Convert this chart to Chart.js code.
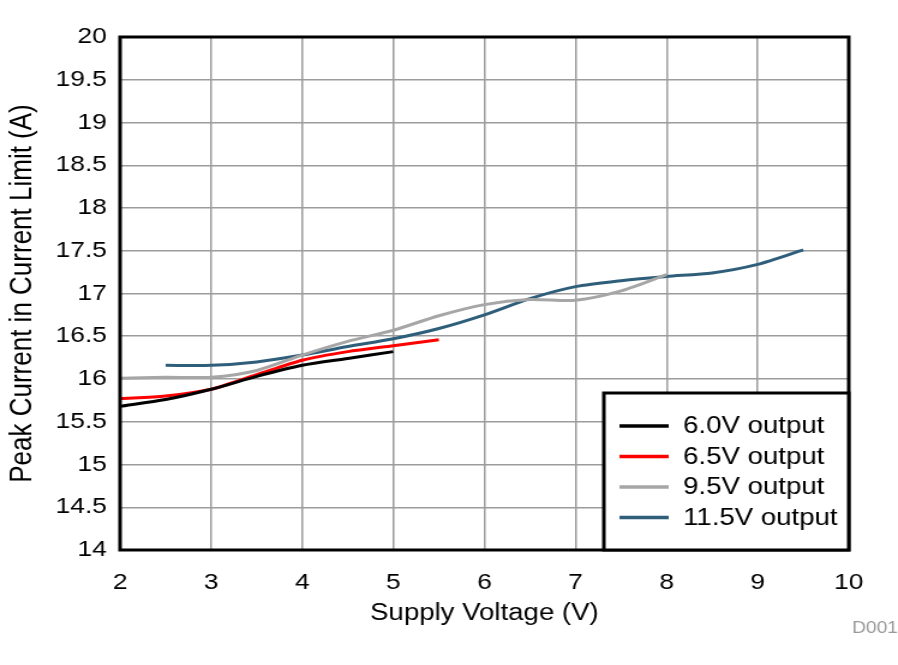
<!DOCTYPE html>
<html>
<head>
<meta charset="utf-8">
<script src="https://cdn.jsdelivr.net/npm/chart.js@4/dist/chart.umd.min.js"></script>
<style>
  html, body { margin: 0; padding: 0; background: #fff; overflow: hidden; }
  #wrap { width: 898px; height: 665px; position: relative; }
  /* the reference is stretched sideways, so draw narrow and widen */
  #line-chart { transform-origin: 0 0; transform: scaleX(1.2005); }
</style>
</head>
<body>
<div id="wrap"><canvas id="line-chart" width="748" height="665"></canvas></div>
<script>
// data
const volts60 = [2, 2.5, 3, 3.5, 4, 4.5, 5];
const amps60 = [15.68, 15.76, 15.88, 16.03, 16.16, 16.24, 16.32];

const volts65 = [2, 2.5, 3, 3.5, 4, 4.5, 5, 5.5];
const amps65 = [15.77, 15.8, 15.88, 16.05, 16.22, 16.32, 16.39, 16.46];

const volts95 = [2, 2.5, 3, 3.5, 4, 4.5, 5, 5.5, 6, 6.5, 7, 7.5, 8];
const amps95 = [16.01, 16.02, 16.02, 16.1, 16.28, 16.44, 16.57, 16.74, 16.87, 16.93, 16.92, 17.03, 17.22];

const volts115 = [2.5, 3, 3.5, 4, 4.5, 5, 5.5, 6, 6.5, 7, 7.5, 8, 8.5, 9, 9.5];
const amps115 = [16.16, 16.16, 16.2, 16.28, 16.38, 16.47, 16.59, 16.75, 16.94, 17.08, 17.15, 17.2, 17.24, 17.34, 17.51];

const seriesLabels = ["6.0V output", "6.5V output", "9.5V output", "11.5V output"];
const seriesColors = ["#000000", "#ff0000", "#a6a6a6", "#2e5e7a"];

const toPoints = (xs, ys) => xs.map((x, i) => ({ x: x, y: ys[i] }));

const FONT = "'Liberation Sans', Arial, sans-serif";

// frame round the plot, legend box and the D001 tag
const framePlugin = {
  id: "frame",
  afterDraw(chart) {
    const ctx = chart.ctx;
    const a = chart.chartArea;
    ctx.save();
    ctx.strokeStyle = "#000";
    ctx.lineWidth = 3;
    ctx.strokeRect(a.left, a.top, a.right - a.left, a.bottom - a.top);

    // legend
    const lx = 503, ly = 393, lw = a.right - lx, lh = a.bottom - ly;
    ctx.fillStyle = "#fff";
    ctx.fillRect(lx, ly, lw, lh);
    ctx.lineWidth = 3;
    ctx.strokeRect(lx, ly, lw, lh);
    ctx.font = "23px " + FONT;
    ctx.textBaseline = "middle";
    chart.data.datasets.forEach((ds, i) => {
      const y = 426 + i * 30.5;
      ctx.strokeStyle = ds.borderColor;
      ctx.lineWidth = 3.5;
      ctx.beginPath();
      ctx.moveTo(516, y);
      ctx.lineTo(557, y);
      ctx.stroke();
      ctx.fillStyle = "#000";
      ctx.fillText(ds.label, 569, y + 1);
    });

    ctx.fillStyle = "#999";
    ctx.font = "16px " + FONT;
    ctx.textAlign = "right";
    ctx.fillText("D001", 748, 629);
    ctx.restore();
  },
};

const chart = new Chart(document.getElementById("line-chart"), {
  type: "line",
  data: {
    datasets: [
      { label: seriesLabels[0], data: toPoints(volts60, amps60), borderColor: seriesColors[0] },
      { label: seriesLabels[1], data: toPoints(volts65, amps65), borderColor: seriesColors[1] },
      { label: seriesLabels[2], data: toPoints(volts95, amps95), borderColor: seriesColors[2] },
      { label: seriesLabels[3], data: toPoints(volts115, amps115), borderColor: seriesColors[3] },
    ].map((d) => Object.assign(d, { borderWidth: 3, pointRadius: 0, fill: false, tension: 0.25 })),
  },
  options: {
    responsive: false,
    animation: false,
    layout: { padding: { left: 0, top: 37, right: 41, bottom: 30 } },
    plugins: {
      legend: { display: false },
      tooltip: { enabled: false },
    },
    scales: {
      x: {
        type: "linear",
        min: 2,
        max: 10,
        afterFit: (s) => { s.height = 85; },
        ticks: { stepSize: 1, color: "#000", padding: 20, font: { family: FONT, size: 22 } },
        grid: { color: "#9c9c9c", lineWidth: 1.5, drawTicks: false },
        border: { display: false },
        title: {
          display: true,
          text: "Supply Voltage (V)",
          color: "#000",
          font: { family: FONT, size: 23 },
          padding: { top: 0, bottom: 8 },
        },
      },
      y: {
        min: 14,
        max: 20,
        afterFit: (s) => { s.width = 100; },
        ticks: {
          stepSize: 0.5,
          color: "#000",
          padding: 11,
          font: { family: FONT, size: 22 },
          callback: (v) => String(v),
        },
        grid: { color: "#9c9c9c", lineWidth: 1.5, drawTicks: false },
        border: { display: false },
        title: {
          display: true,
          text: "Peak Current in Current Limit (A)",
          color: "#000",
          font: { family: FONT, size: 26 },
          padding: { top: 3, bottom: 0 },
        },
      },
    },
  },
  plugins: [framePlugin],
});
</script>
</body>
</html>
